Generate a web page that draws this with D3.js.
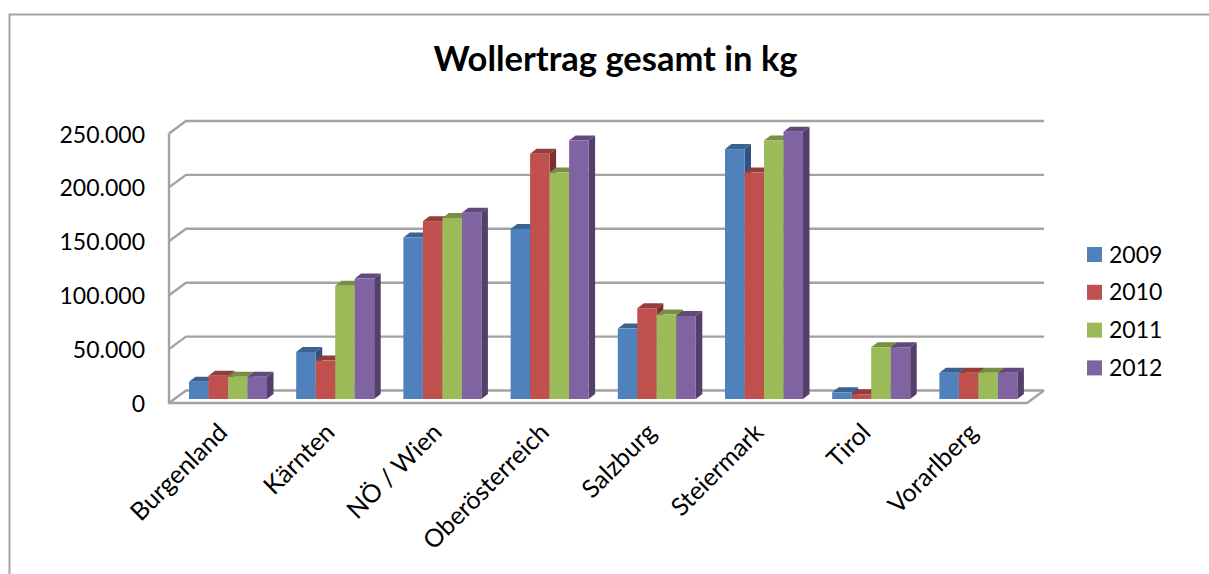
<!DOCTYPE html>
<html>
<head>
<meta charset="utf-8">
<script src="https://cdn.jsdelivr.net/npm/d3@7"></script>
<style>
	html, body { margin: 0; padding: 0; background: #fff; overflow: hidden; }
	text { font-family: Lato, "Open Sans", sans-serif; fill: #000; }
</style>
</head>
<body>
<div id="chart"></div>
<script>
var categories = ["Burgenland", "Kärnten", "NÖ / Wien", "Oberösterreich", "Salzburg", "Steiermark", "Tirol", "Vorarlberg"];
var years = ["2009", "2010", "2011", "2012"];
var values2009 = [16000, 43600, 149800, 157800, 65300, 231800, 6200, 24400];
var values2010 = [21600, 35600, 165000, 227500, 84200, 210000, 4400, 24400];
var values2011 = [20700, 105000, 168000, 210000, 78300, 239800, 48000, 24400];
var values2012 = [20700, 111700, 172700, 239800, 77000, 247900, 48000, 24400];
var yTicks = [0, 50000, 100000, 150000, 200000, 250000];
var seriesValues = [values2009, values2010, values2011, values2012];

var colors = ["#4f81bd", "#c0504d", "#9bbb59", "#8064a2"];
var topColors = ["#3a6391", "#943c3a", "#768f43", "#61497c"];
var sideColors = ["#2f5380", "#7e2f2d", "#627a35", "#543e6a"];
var gridColor = "#a3a3a3";

var svg = d3.select("#chart").append("svg")
	.attr("width", 1209)
	.attr("height", 574);

// chart frame, cut off at the bottom and right of the picture
svg.append("path")
	.attr("d", "M9.5,574V14.5H1209")
	.attr("fill", "none")
	.attr("stroke", gridColor)
	.attr("stroke-width", 2);

// setup scales, front plane of the 3d box
var depth = {x: 17, y: -12.5}, // front -> back wall
	barDepth = {x: 6.5, y: -5}, // depth of one bar
	barShift = {x: 0, y: -4}; // bars stand a bit behind the front edge

var xScale = d3.scaleBand().domain(categories).range([174.4, 1032]);
var seriesScale = d3.scaleBand().domain(years).range([-39, 39]);
var yScale = d3.scaleLinear().domain([0, 250000]).range([403, 133.5]);

var x0 = 169, x1 = 1027;

// back wall gridlines and the slanted bits on the left
var walls = svg.append("g")
	.attr("fill", "none")
	.attr("stroke", gridColor)
	.attr("stroke-width", 2.4);

walls.selectAll(".grid")
	.data(yTicks)
	.enter().append("path")
	.attr("class", "grid")
	.attr("d", function(d) {
		return "M" + x0 + "," + yScale(d)
			+ "L" + (x0 + depth.x) + "," + (yScale(d) + depth.y)
			+ "H" + (x1 + depth.x);
	});

// y axis line and floor front
walls.append("path")
	.attr("d", "M" + x0 + "," + yScale(250000) + "V" + yScale(0) + "H" + x1
		+ "L" + (x1 + depth.x) + "," + (yScale(0) + depth.y));

// y axis labels
var yFormat = function(d) { return d3.format(",")(d).replace(/,/g, "."); };
svg.selectAll(".ylabel")
	.data(yTicks)
	.enter().append("text")
	.attr("class", "ylabel")
	.attr("x", 145)
	.attr("y", function(d) { return yScale(d) + 1; })
	.attr("dy", ".35em")
	.style("text-anchor", "end")
	.style("font-size", "23px")
	.text(yFormat);

// draw bars, left to right so the side faces get covered
var barWidth = seriesScale.bandwidth();
var bars = [];
categories.forEach(function(c, i) {
	years.forEach(function(y, s) {
		bars.push({category: c, year: y, s: s, value: seriesValues[s][i]});
	});
});

var bar = svg.selectAll(".bar")
	.data(bars)
	.enter().append("g")
	.attr("class", "bar");

var barLeft = function(d) { return xScale(d.category) + xScale.bandwidth() / 2 + seriesScale(d.year); };
var barTop = function(d) { return yScale(d.value) + barShift.y; };
var barBase = yScale(0) + barShift.y;

bar.append("path") // side
	.attr("fill", function(d) { return sideColors[d.s]; })
	.attr("d", function(d) {
		var r = barLeft(d) + barWidth;
		return "M" + r + "," + barTop(d)
			+ "l" + barDepth.x + "," + barDepth.y
			+ "V" + (barBase + barDepth.y)
			+ "L" + r + "," + barBase + "Z";
	});

bar.append("path") // top
	.attr("fill", function(d) { return topColors[d.s]; })
	.attr("d", function(d) {
		return "M" + barLeft(d) + "," + barTop(d)
			+ "l" + barDepth.x + "," + barDepth.y
			+ "h" + barWidth
			+ "l" + (-barDepth.x) + "," + (-barDepth.y) + "Z";
	});

bar.append("rect") // front
	.attr("x", barLeft)
	.attr("y", barTop)
	.attr("width", barWidth)
	.attr("height", function(d) { return barBase - barTop(d); })
	.attr("fill", function(d) { return colors[d.s]; });

// category labels
svg.selectAll(".xlabel")
	.data(categories)
	.enter().append("text")
	.attr("class", "xlabel")
	.attr("transform", function(d) {
		return "translate(" + (xScale(d) + xScale.bandwidth() / 2 + 1) + ",434) rotate(-45)";
	})
	.style("text-anchor", "end")
	.style("font-size", "25px")
	.text(function(d) { return d; });

// title
svg.append("text")
	.attr("x", 615.5)
	.attr("y", 71)
	.style("text-anchor", "middle")
	.style("font-size", "34.5px")
	.style("font-weight", "bold")
	.text("Wollertrag gesamt in kg");

// legend
var legend = svg.selectAll(".legend")
	.data(years)
	.enter().append("g")
	.attr("class", "legend")
	.attr("transform", function(d, i) { return "translate(1087," + (247 + i * 37.8) + ")"; });

legend.append("rect")
	.attr("width", 15)
	.attr("height", 15)
	.attr("fill", function(d, i) { return colors[i]; });

legend.append("text")
	.attr("x", 22)
	.attr("y", 7.5)
	.attr("dy", ".35em")
	.style("font-size", "23px")
	.text(function(d) { return d; });
</script>
</body>
</html>
